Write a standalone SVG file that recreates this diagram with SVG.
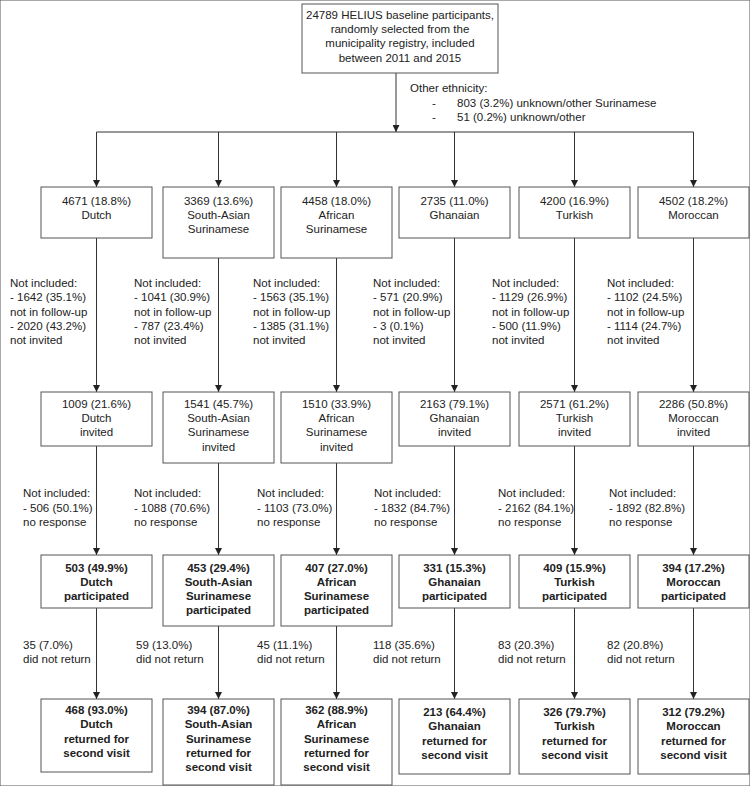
<svg xmlns="http://www.w3.org/2000/svg" width="750" height="786" viewBox="0 0 750 786">
<defs>
<marker id="ah" viewBox="0 0 10 10" refX="10" refY="5" markerWidth="7" markerHeight="7" markerUnits="userSpaceOnUse" orient="auto">
<path d="M0,0 L10,5 L0,10 z" fill="#222"/>
</marker>
<style>
text{font-family:"Liberation Sans",Arial,sans-serif;font-size:11.5px;fill:#222}
.c{text-anchor:middle}
.b{font-weight:bold}
rect{fill:#fff;stroke:#555;stroke-width:1}
.ln{stroke:#333;stroke-width:1;fill:none}
.ar{stroke:#333;stroke-width:1;fill:none;marker-end:url(#ah)}
</style>
</defs>
<rect width="750" height="786" fill="#fff" stroke="none"/>

<g id="connectors">
<line class="ar" x1="396" y1="73" x2="396" y2="132"/>
<line class="ln" x1="96.5" y1="132" x2="693.5" y2="132"/>
<line class="ar" x1="96.5" y1="132" x2="96.5" y2="187"/>
<line class="ar" x1="218.5" y1="132" x2="218.5" y2="187"/>
<line class="ar" x1="336.5" y1="132" x2="336.5" y2="187"/>
<line class="ar" x1="454.5" y1="132" x2="454.5" y2="187"/>
<line class="ar" x1="574.5" y1="132" x2="574.5" y2="187"/>
<line class="ar" x1="693.5" y1="132" x2="693.5" y2="187"/>

<line class="ar" x1="96.5" y1="238" x2="96.5" y2="392"/>
<line class="ar" x1="218.5" y1="258" x2="218.5" y2="392"/>
<line class="ar" x1="336.5" y1="258" x2="336.5" y2="392"/>
<line class="ar" x1="454.5" y1="238" x2="454.5" y2="392"/>
<line class="ar" x1="574.5" y1="238" x2="574.5" y2="392"/>
<line class="ar" x1="693.5" y1="238" x2="693.5" y2="392"/>

<line class="ar" x1="96.5" y1="446" x2="96.5" y2="555"/>
<line class="ar" x1="218.5" y1="463" x2="218.5" y2="555"/>
<line class="ar" x1="336.5" y1="463" x2="336.5" y2="555"/>
<line class="ar" x1="454.5" y1="446" x2="454.5" y2="555"/>
<line class="ar" x1="574.5" y1="446" x2="574.5" y2="555"/>
<line class="ar" x1="693.5" y1="446" x2="693.5" y2="555"/>

<line class="ar" x1="96.5" y1="608" x2="96.5" y2="699"/>
<line class="ar" x1="218.5" y1="626" x2="218.5" y2="699"/>
<line class="ar" x1="336.5" y1="626" x2="336.5" y2="699"/>
<line class="ar" x1="454.5" y1="608" x2="454.5" y2="699"/>
<line class="ar" x1="574.5" y1="608" x2="574.5" y2="699"/>
<line class="ar" x1="693.5" y1="608" x2="693.5" y2="699"/>
</g>

<g id="top">
<rect x="302" y="4" width="196" height="69"/>
<text class="c" x="400" y="19">24789 HELIUS baseline participants,</text>
<text class="c" x="400" y="33">randomly selected from the</text>
<text class="c" x="400" y="47">municipality registry, included</text>
<text class="c" x="400" y="62">between 2011 and 2015</text>
</g>

<g id="other-ethnicity">
<text x="410" y="92">Other ethnicity:</text>
<text x="432" y="107">-</text>
<text x="457" y="107">803 (3.2%) unknown/other Surinamese</text>
<text x="432" y="121">-</text>
<text x="457" y="121">51 (0.2%) unknown/other</text>
</g>

<!-- Row 1 -->
<g id="r1-dutch"><rect x="41" y="187" width="111" height="51"/><text class="c" x="96.5" y="205">4671 (18.8%)</text><text class="c" x="96.5" y="219">Dutch</text></g>
<g id="r1-sa"><rect x="163" y="187" width="111" height="71"/><text class="c" x="218.5" y="205">3369 (13.6%)</text><text class="c" x="218.5" y="219">South-Asian</text><text class="c" x="218.5" y="233">Surinamese</text></g>
<g id="r1-af"><rect x="281" y="187" width="111" height="71"/><text class="c" x="336.5" y="205">4458 (18.0%)</text><text class="c" x="336.5" y="219">African</text><text class="c" x="336.5" y="233">Surinamese</text></g>
<g id="r1-gh"><rect x="399" y="187" width="111" height="51"/><text class="c" x="454.5" y="205">2735 (11.0%)</text><text class="c" x="454.5" y="219">Ghanaian</text></g>
<g id="r1-tu"><rect x="519" y="187" width="111" height="51"/><text class="c" x="574.5" y="205">4200 (16.9%)</text><text class="c" x="574.5" y="219">Turkish</text></g>
<g id="r1-mo"><rect x="638" y="187" width="111" height="51"/><text class="c" x="693.5" y="205">4502 (18.2%)</text><text class="c" x="693.5" y="219">Moroccan</text></g>

<!-- Exclusions 1 -->
<g id="ex1">
<text x="10" y="287">Not included:</text><text x="10" y="301">- 1642 (35.1%)</text><text x="10" y="316">not in follow-up</text><text x="10" y="330">- 2020 (43.2%)</text><text x="10" y="344">not invited</text>
<text x="134" y="287">Not included:</text><text x="134" y="301">- 1041 (30.9%)</text><text x="134" y="316">not in follow-up</text><text x="134" y="330">- 787 (23.4%)</text><text x="134" y="344">not invited</text>
<text x="253" y="287">Not included:</text><text x="253" y="301">- 1563 (35.1%)</text><text x="253" y="316">not in follow-up</text><text x="253" y="330">- 1385 (31.1%)</text><text x="253" y="344">not invited</text>
<text x="373" y="287">Not included:</text><text x="373" y="301">- 571 (20.9%)</text><text x="373" y="316">not in follow-up</text><text x="373" y="330">- 3 (0.1%)</text><text x="373" y="344">not invited</text>
<text x="492" y="287">Not included:</text><text x="492" y="301">- 1129 (26.9%)</text><text x="492" y="316">not in follow-up</text><text x="492" y="330">- 500 (11.9%)</text><text x="492" y="344">not invited</text>
<text x="607" y="287">Not included:</text><text x="607" y="301">- 1102 (24.5%)</text><text x="607" y="316">not in follow-up</text><text x="607" y="330">- 1114 (24.7%)</text><text x="607" y="344">not invited</text>
</g>

<!-- Row 2 -->
<g id="r2-dutch"><rect x="41" y="392" width="111" height="54"/><text class="c" x="96.5" y="408">1009 (21.6%)</text><text class="c" x="96.5" y="422">Dutch</text><text class="c" x="96.5" y="436">invited</text></g>
<g id="r2-sa"><rect x="163" y="392" width="111" height="71"/><text class="c" x="218.5" y="408">1541 (45.7%)</text><text class="c" x="218.5" y="422">South-Asian</text><text class="c" x="218.5" y="436">Surinamese</text><text class="c" x="218.5" y="451">invited</text></g>
<g id="r2-af"><rect x="281" y="392" width="111" height="71"/><text class="c" x="336.5" y="408">1510 (33.9%)</text><text class="c" x="336.5" y="422">African</text><text class="c" x="336.5" y="436">Surinamese</text><text class="c" x="336.5" y="451">invited</text></g>
<g id="r2-gh"><rect x="399" y="392" width="111" height="54"/><text class="c" x="454.5" y="408">2163 (79.1%)</text><text class="c" x="454.5" y="422">Ghanaian</text><text class="c" x="454.5" y="436">invited</text></g>
<g id="r2-tu"><rect x="519" y="392" width="111" height="54"/><text class="c" x="574.5" y="408">2571 (61.2%)</text><text class="c" x="574.5" y="422">Turkish</text><text class="c" x="574.5" y="436">invited</text></g>
<g id="r2-mo"><rect x="638" y="392" width="111" height="54"/><text class="c" x="693.5" y="408">2286 (50.8%)</text><text class="c" x="693.5" y="422">Moroccan</text><text class="c" x="693.5" y="436">invited</text></g>

<!-- Exclusions 2 -->
<g id="ex2">
<text x="23" y="497">Not included:</text><text x="23" y="512">- 506 (50.1%)</text><text x="23" y="526">no response</text>
<text x="134" y="497">Not included:</text><text x="134" y="512">- 1088 (70.6%)</text><text x="134" y="526">no response</text>
<text x="257" y="497">Not included:</text><text x="257" y="512">- 1103 (73.0%)</text><text x="257" y="526">no response</text>
<text x="374" y="497">Not included:</text><text x="374" y="512">- 1832 (84.7%)</text><text x="374" y="526">no response</text>
<text x="498" y="497">Not included:</text><text x="498" y="512">- 2162 (84.1%)</text><text x="498" y="526">no response</text>
<text x="609" y="497">Not included:</text><text x="609" y="512">- 1892 (82.8%)</text><text x="609" y="526">no response</text>
</g>

<!-- Row 3 -->
<g id="r3-dutch"><rect x="41" y="555" width="111" height="53"/><text class="c b" x="96.5" y="572">503 (49.9%)</text><text class="c b" x="96.5" y="586">Dutch</text><text class="c b" x="96.5" y="600">participated</text></g>
<g id="r3-sa"><rect x="163" y="555" width="111" height="71"/><text class="c b" x="218.5" y="572">453 (29.4%)</text><text class="c b" x="218.5" y="586">South-Asian</text><text class="c b" x="218.5" y="600">Surinamese</text><text class="c b" x="218.5" y="614">participated</text></g>
<g id="r3-af"><rect x="281" y="555" width="111" height="71"/><text class="c b" x="336.5" y="572">407 (27.0%)</text><text class="c b" x="336.5" y="586">African</text><text class="c b" x="336.5" y="600">Surinamese</text><text class="c b" x="336.5" y="614">participated</text></g>
<g id="r3-gh"><rect x="399" y="555" width="111" height="53"/><text class="c b" x="454.5" y="572">331 (15.3%)</text><text class="c b" x="454.5" y="586">Ghanaian</text><text class="c b" x="454.5" y="600">participated</text></g>
<g id="r3-tu"><rect x="519" y="555" width="111" height="53"/><text class="c b" x="574.5" y="572">409 (15.9%)</text><text class="c b" x="574.5" y="586">Turkish</text><text class="c b" x="574.5" y="600">participated</text></g>
<g id="r3-mo"><rect x="638" y="555" width="111" height="53"/><text class="c b" x="693.5" y="572">394 (17.2%)</text><text class="c b" x="693.5" y="586">Moroccan</text><text class="c b" x="693.5" y="600">participated</text></g>

<!-- Exclusions 3 -->
<g id="ex3">
<text x="23" y="649">35 (7.0%)</text><text x="23" y="663">did not return</text>
<text x="136" y="649">59 (13.0%)</text><text x="136" y="663">did not return</text>
<text x="257" y="649">45 (11.1%)</text><text x="257" y="663">did not return</text>
<text x="373" y="649">118 (35.6%)</text><text x="373" y="663">did not return</text>
<text x="498" y="649">83 (20.3%)</text><text x="498" y="663">did not return</text>
<text x="607" y="649">82 (20.8%)</text><text x="607" y="663">did not return</text>
</g>

<!-- Row 4 -->
<g id="r4-dutch"><rect x="41" y="699" width="111" height="73"/><text class="c b" x="96.5" y="714">468 (93.0%)</text><text class="c b" x="96.5" y="728">Dutch</text><text class="c b" x="96.5" y="743">returned for</text><text class="c b" x="96.5" y="757">second visit</text></g>
<g id="r4-sa"><rect x="163" y="699" width="111" height="86"/><text class="c b" x="218.5" y="714">394 (87.0%)</text><text class="c b" x="218.5" y="728">South-Asian</text><text class="c b" x="218.5" y="743">Surinamese</text><text class="c b" x="218.5" y="757">returned for</text><text class="c b" x="218.5" y="771">second visit</text></g>
<g id="r4-af"><rect x="281" y="699" width="111" height="86"/><text class="c b" x="336.5" y="714">362 (88.9%)</text><text class="c b" x="336.5" y="728">African</text><text class="c b" x="336.5" y="743">Surinamese</text><text class="c b" x="336.5" y="757">returned for</text><text class="c b" x="336.5" y="771">second visit</text></g>
<g id="r4-gh"><rect x="399" y="699" width="111" height="75"/><text class="c b" x="454.5" y="716">213 (64.4%)</text><text class="c b" x="454.5" y="730">Ghanaian</text><text class="c b" x="454.5" y="745">returned for</text><text class="c b" x="454.5" y="759">second visit</text></g>
<g id="r4-tu"><rect x="519" y="699" width="111" height="75"/><text class="c b" x="574.5" y="716">326 (79.7%)</text><text class="c b" x="574.5" y="730">Turkish</text><text class="c b" x="574.5" y="745">returned for</text><text class="c b" x="574.5" y="759">second visit</text></g>
<g id="r4-mo"><rect x="638" y="699" width="111" height="75"/><text class="c b" x="693.5" y="716">312 (79.2%)</text><text class="c b" x="693.5" y="730">Moroccan</text><text class="c b" x="693.5" y="745">returned for</text><text class="c b" x="693.5" y="759">second visit</text></g>
</svg>
